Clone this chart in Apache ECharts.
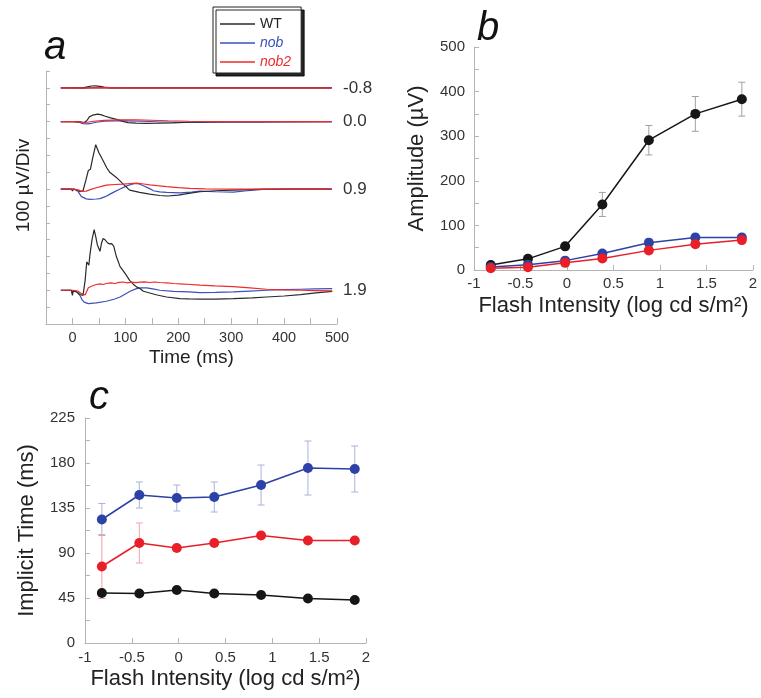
<!DOCTYPE html>
<html><head><meta charset="utf-8">
<script src="https://cdn.jsdelivr.net/npm/echarts@6/dist/echarts.min.js"></script>
<style>html,body{margin:0;padding:0;background:#fff}#c{width:761px;height:698px}</style>
</head><body><div id="c"></div>
<script>
// ---------- Panel a: ERG traces, [time ms, amplitude µV] relative to each baseline ----------
const intensityLabels = ['-0.8', '0.0', '0.9', '1.9'];
const traceOffsets = [1400, 1200, 800, 200]; // vertical separation of the traces (µV)

const wt_m08 = [[-22,0],[-2,0],[0,-8],[2,0],[20,0],[28,6],[36,11],[44,12],[52,9],[60,4],[72,0],[490,0]];
const nob_m08 = [[-22,0],[-2,0],[0,-8],[2,0],[20,-2],[40,0],[120,0],[490,0]];
const nob2_m08 = [[-22,0],[-2,0],[0,-8],[2,0],[20,-1],[40,1],[120,0],[490,0]];

const wt_00 = [[-22,0],[-2,0],[0,-10],[2,0],[15,-2],[22,-6],[27,5],[32,28],[38,38],[48,44],[55,40],[62,32],[72,22],[85,12],[97,0],[105,-6],[120,-9],[140,-10],[160,-9],[190,-7],[220,-4],[260,0],[490,0]];
const nob_00 = [[-22,0],[-2,0],[0,-8],[2,0],[12,-4],[20,-12],[28,-14],[36,-10],[45,-4],[60,2],[80,4],[100,4],[130,2],[160,-1],[200,-4],[250,-5],[300,-4],[350,-3],[400,-2],[490,0]];
const nob2_00 = [[-22,0],[-2,0],[0,-8],[2,0],[12,-3],[20,-6],[28,-4],[40,2],[60,7],[90,10],[120,10],[150,8],[180,5],[220,2],[260,0],[490,0]];

const wt_09 = [[-22,0],[-2,0],[0,-12],[2,0],[8,-4],[14,-15],[20,-10],[26,60],[30,110],[34,118],[38,180],[44,263],[50,215],[58,168],[65,125],[71,98],[83,69],[96,29],[108,-6],[127,-20],[146,-30],[165,-38],[180,-41],[200,-36],[220,-26],[241,-16],[270,-10],[304,-6],[350,-2],[400,0],[490,0]];
const nob_09 = [[-22,0],[-2,0],[0,-10],[2,0],[10,-12],[17,-45],[26,-58],[33,-61],[45,-59],[52,-57],[62,-45],[71,-30],[80,-15],[90,0],[105,22],[118,33],[126,30],[134,20],[145,4],[153,-10],[165,-17],[178,-20],[203,-23],[225,-18],[241,-12],[270,-16],[304,-18],[330,-10],[360,-2],[400,0],[490,0]];
const nob2_09 = [[-22,0],[-2,0],[0,-8],[2,0],[12,-6],[18,-14],[26,-12],[35,-2],[45,8],[55,16],[64,23],[80,27],[96,29],[110,33],[121,35],[135,30],[146,25],[160,20],[178,14],[200,8],[222,4],[250,1],[300,0],[490,0]];

const wt_19 = [[-22,0],[-2,0],[0,-30],[1,-5],[4,0],[8,-10],[14,-25],[20,-30],[24,60],[27,168],[29,178],[31,148],[33,210],[37,300],[41,360],[44,318],[47,270],[52,231],[55,280],[58,307],[62,298],[66,282],[70,275],[74,277],[78,262],[83,200],[90,140],[96,115],[102,88],[108,59],[115,36],[121,20],[127,12],[134,-6],[146,-16],[160,-28],[178,-40],[203,-49],[220,-51],[241,-53],[270,-52],[304,-49],[340,-45],[367,-40],[400,-34],[431,-26],[460,-16],[491,-6]];
const nob_19 = [[-22,0],[-2,0],[0,-20],[1,-3],[4,0],[8,-8],[14,-30],[18,-55],[22,-70],[30,-79],[45,-75],[64,-65],[80,-52],[90,-40],[100,-22],[109,-6],[121,10],[130,14],[140,14],[152,8],[165,0],[191,-6],[220,-10],[241,-14],[270,-13],[304,-10],[335,-5],[367,0],[400,4],[431,6],[460,8],[491,10]];
const nob2_19 = [[-22,0],[-2,0],[0,-10],[2,0],[10,-5],[17,-20],[24,-28],[30,15],[37,25],[45,34],[52,38],[58,34],[64,40],[72,44],[80,40],[88,47],[96,49],[104,44],[112,48],[120,45],[128,48],[136,50],[146,46],[155,49],[165,46],[178,44],[191,40],[210,37],[241,30],[270,26],[304,22],[335,14],[367,6],[400,2],[431,0],[460,-2],[491,-4]];

const tracesWT = [wt_m08, wt_00, wt_09, wt_19];
const tracesNob = [nob_m08, nob_00, nob_09, nob_19];
const tracesNob2 = [nob2_m08, nob2_00, nob2_09, nob2_19];

// ---------- Panels b & c ----------
const intensities = [-0.82, -0.42, -0.02, 0.38, 0.88, 1.38, 1.88];

const ampWT   = [11, 25, 53, 147, 291, 350, 383];
const ampWTErr = [3, 4, 6, 27, 33, 39, 38];
const ampNob  = [7, 12, 21, 37, 61, 73, 73];
const ampNobErr = [3, 3, 4, 5, 9, 8, 8];
const ampNob2 = [4, 6, 16, 26, 44, 58, 67];
const ampNob2Err = [2, 3, 3, 4, 5, 5, 5];

const itWT   = [50, 49.5, 53, 49.5, 48, 44.5, 43];
const itWTErr = [2, 2, 2, 2, 2, 2, 2];
const itNob  = [123.5, 148, 145, 146, 158, 175, 174];
const itNobErr = [16, 13, 13, 15, 20, 27, 23];
const itNob2 = [76.5, 100, 95, 100, 107.5, 102.5, 102.5];
const itNob2Err = [32, 20, 3, 3, 3, 3, 3];

// ---------- styling ----------
const FONT = 'Liberation Sans, Arial, sans-serif';
const C_WT = '#161616', C_NOB = '#2c42a6', C_NOB2 = '#e81f28';
const C_WT_T = '#2a2a2a', C_NOB_T = '#3a50bd', C_NOB2_T = '#ef2b2b';
const E_WT = '#a0a0a0', E_NOB = '#aab2dc', E_NOB2 = '#f3a2a8';
const AX = '#b4b4b4';

const chart = echarts.init(document.getElementById('c'), null, {renderer: 'canvas'});

function axisBase() {
  return {
    axisLine: {show: true, onZero: false, lineStyle: {color: AX, width: 1}},
    axisTick: {show: true, inside: true, length: 5, lineStyle: {color: AX, width: 1}},
    splitLine: {show: false},
    axisLabel: {color: '#333', fontSize: 15, fontFamily: FONT},
    nameTextStyle: {color: '#222', fontFamily: FONT}
  };
}

const series = [];
// panel a traces
const groups = [[tracesWT, 'WT', C_WT_T], [tracesNob, 'nob', C_NOB_T], [tracesNob2, 'nob2', C_NOB2_T]];
for (let i = 0; i < 4; i++) {
  for (const [tr, name, col] of groups) {
    series.push({
      type: 'line', name: name, xAxisIndex: 0, yAxisIndex: 0,
      data: tr[i].map(p => [p[0], p[1] + traceOffsets[i]]),
      symbol: 'none', smooth: false, lineStyle: {color: col, width: 1.2}, itemStyle: {color: col},
      z: name === 'WT' ? 3 : (name === 'nob' ? 2 : 4)
    });
  }
}

function errSeries(means, errs, color, xi, yi) {
  return {
    type: 'custom', name: 'err', xAxisIndex: xi, yAxisIndex: yi, z: 1, silent: true,
    data: intensities.map((x, k) => [x, means[k] - errs[k], means[k] + errs[k]]),
    encode: {x: 0, y: [1, 2]},
    renderItem: function (params, api) {
      const x = api.value(0);
      const lo = api.coord([x, api.value(1)]);
      const hi = api.coord([x, api.value(2)]);
      const w = 3.5;
      const st = {stroke: color, lineWidth: 1};
      return {type: 'group', children: [
        {type: 'line', shape: {x1: lo[0], y1: lo[1], x2: hi[0], y2: hi[1]}, style: st},
        {type: 'line', shape: {x1: lo[0] - w, y1: lo[1], x2: lo[0] + w, y2: lo[1]}, style: st},
        {type: 'line', shape: {x1: hi[0] - w, y1: hi[1], x2: hi[0] + w, y2: hi[1]}, style: st}
      ]};
    }
  };
}
function dotSeries(name, means, color, xi, yi) {
  return {
    type: 'line', name: name, xAxisIndex: xi, yAxisIndex: yi, z: 3,
    data: intensities.map((x, k) => [x, means[k]]),
    symbol: 'circle', symbolSize: 10, showSymbol: true,
    lineStyle: {color: color, width: 1.5}, itemStyle: {color: color}
  };
}
// panel b
series.push(errSeries(ampWT, ampWTErr, E_WT, 1, 2));
series.push(errSeries(ampNob, ampNobErr, E_NOB, 1, 2));
series.push(errSeries(ampNob2, ampNob2Err, E_NOB2, 1, 2));
series.push(dotSeries('WT amplitude', ampWT, C_WT, 1, 2));
series.push(dotSeries('nob amplitude', ampNob, C_NOB, 1, 2));
series.push(dotSeries('nob2 amplitude', ampNob2, C_NOB2, 1, 2));
// panel c
series.push(errSeries(itWT, itWTErr, E_WT, 2, 3));
series.push(errSeries(itNob, itNobErr, E_NOB, 2, 3));
series.push(errSeries(itNob2, itNob2Err, E_NOB2, 2, 3));
series.push(dotSeries('WT implicit time', itWT, C_WT, 2, 3));
series.push(dotSeries('nob implicit time', itNob, C_NOB, 2, 3));
series.push(dotSeries('nob2 implicit time', itNob2, C_NOB2, 2, 3));

const titleStyle = {fontStyle: 'italic', fontWeight: 'normal', fontSize: 40, fontFamily: FONT, color: '#111'};

const option = {
  animation: false,
  backgroundColor: '#fff',
  title: [
    {text: 'a', left: 44, top: 28, padding: 0, textStyle: titleStyle},
    {text: 'b', left: 477, top: 9, padding: 0, textStyle: titleStyle},
    {text: 'c', left: 89, top: 378, padding: 0, textStyle: titleStyle}
  ],
  legend: {
    orient: 'vertical', left: 213, top: 7, itemWidth: 35, itemHeight: 1.4, itemGap: 5,
    icon: 'rect',
    padding: [10, 10, 4, 7], backgroundColor: '#fff', borderColor: '#222', borderWidth: 1,
    shadowColor: 'rgba(0,0,0,0.85)', shadowOffsetX: 3, shadowOffsetY: 3, shadowBlur: 0,
    selectedMode: false,
    textStyle: {fontSize: 14, fontFamily: FONT, color: '#222'},
    data: [
      {name: 'WT', textStyle: {color: '#222'}},
      {name: 'nob', textStyle: {color: C_NOB_T, fontStyle: 'italic'}},
      {name: 'nob2', textStyle: {color: C_NOB2_T, fontStyle: 'italic'}}
    ]
  },
  grid: [
    {left: 46, top: 71, width: 291, height: 253},
    {left: 474, top: 47, width: 279, height: 223},
    {left: 85, top: 418, width: 281, height: 225}
  ],
  xAxis: [
    Object.assign(axisBase(), {
      gridIndex: 0, type: 'value', min: -50, max: 500, interval: 50,
      name: 'Time (ms)', nameLocation: 'middle', nameGap: 24,
      nameTextStyle: {color: '#222', fontFamily: FONT, fontSize: 19},
      axisTick: {show: true, inside: true, length: 6, lineStyle: {color: AX}},
      axisLabel: {color: '#333', fontSize: 14.5, fontFamily: FONT, margin: 6,
        formatter: v => (v >= 0 && v % 100 === 0) ? String(v) : ''}
    }),
    Object.assign(axisBase(), {
      gridIndex: 1, type: 'value', min: -1, max: 2, interval: 0.5,
      name: 'Flash Intensity (log cd s/m²)', nameLocation: 'middle', nameGap: 25,
      nameTextStyle: {color: '#222', fontFamily: FONT, fontSize: 22},
      axisLabel: {color: '#333', fontSize: 15, fontFamily: FONT, margin: 6}
    }),
    Object.assign(axisBase(), {
      gridIndex: 2, type: 'value', min: -1, max: 2, interval: 0.5,
      name: 'Flash Intensity (log cd s/m²)', nameLocation: 'middle', nameGap: 25,
      nameTextStyle: {color: '#222', fontFamily: FONT, fontSize: 22},
      axisLabel: {color: '#333', fontSize: 15, fontFamily: FONT, margin: 7}
    })
  ],
  yAxis: [
    Object.assign(axisBase(), {
      gridIndex: 0, type: 'value', min: 0, max: 1500, interval: 100,
      name: '100 µV/Div', nameLocation: 'middle', nameGap: 13, nameRotate: 90,
      nameTextStyle: {color: '#222', fontFamily: FONT, fontSize: 19, padding: [0, 0, 0, 24]},
      axisTick: {show: true, inside: true, length: 4, lineStyle: {color: AX}},
      axisLabel: {show: false}
    }),
    {
      gridIndex: 0, type: 'value', position: 'right', min: 0, max: 1500, interval: 100,
      axisLine: {show: false}, axisTick: {show: false}, splitLine: {show: false},
      axisLabel: {color: '#333', fontSize: 17, fontFamily: FONT, margin: 6,
        formatter: v => { const k = traceOffsets.indexOf(v); return k >= 0 ? intensityLabels[k] : ''; }}
    },
    Object.assign(axisBase(), {
      gridIndex: 1, type: 'value', min: 0, max: 500, interval: 50,
      name: 'Amplitude (µV)', nameLocation: 'middle', nameGap: 46, nameRotate: 90,
      nameTextStyle: {color: '#222', fontFamily: FONT, fontSize: 22},
      axisLabel: {color: '#333', fontSize: 15, fontFamily: FONT, margin: 9,
        formatter: v => (v % 100 === 0) ? String(v) : ''}
    }),
    Object.assign(axisBase(), {
      gridIndex: 2, type: 'value', min: 0, max: 225, interval: 22.5,
      name: 'Implicit Time (ms)', nameLocation: 'middle', nameGap: 47, nameRotate: 90,
      nameTextStyle: {color: '#222', fontFamily: FONT, fontSize: 22},
      axisLabel: {color: '#333', fontSize: 15, fontFamily: FONT, margin: 10,
        formatter: v => (Math.abs(v / 45 - Math.round(v / 45)) < 1e-6) ? String(Math.round(v)) : ''}
    })
  ],
  series: series
};
chart.setOption(option);
</script></body></html>
